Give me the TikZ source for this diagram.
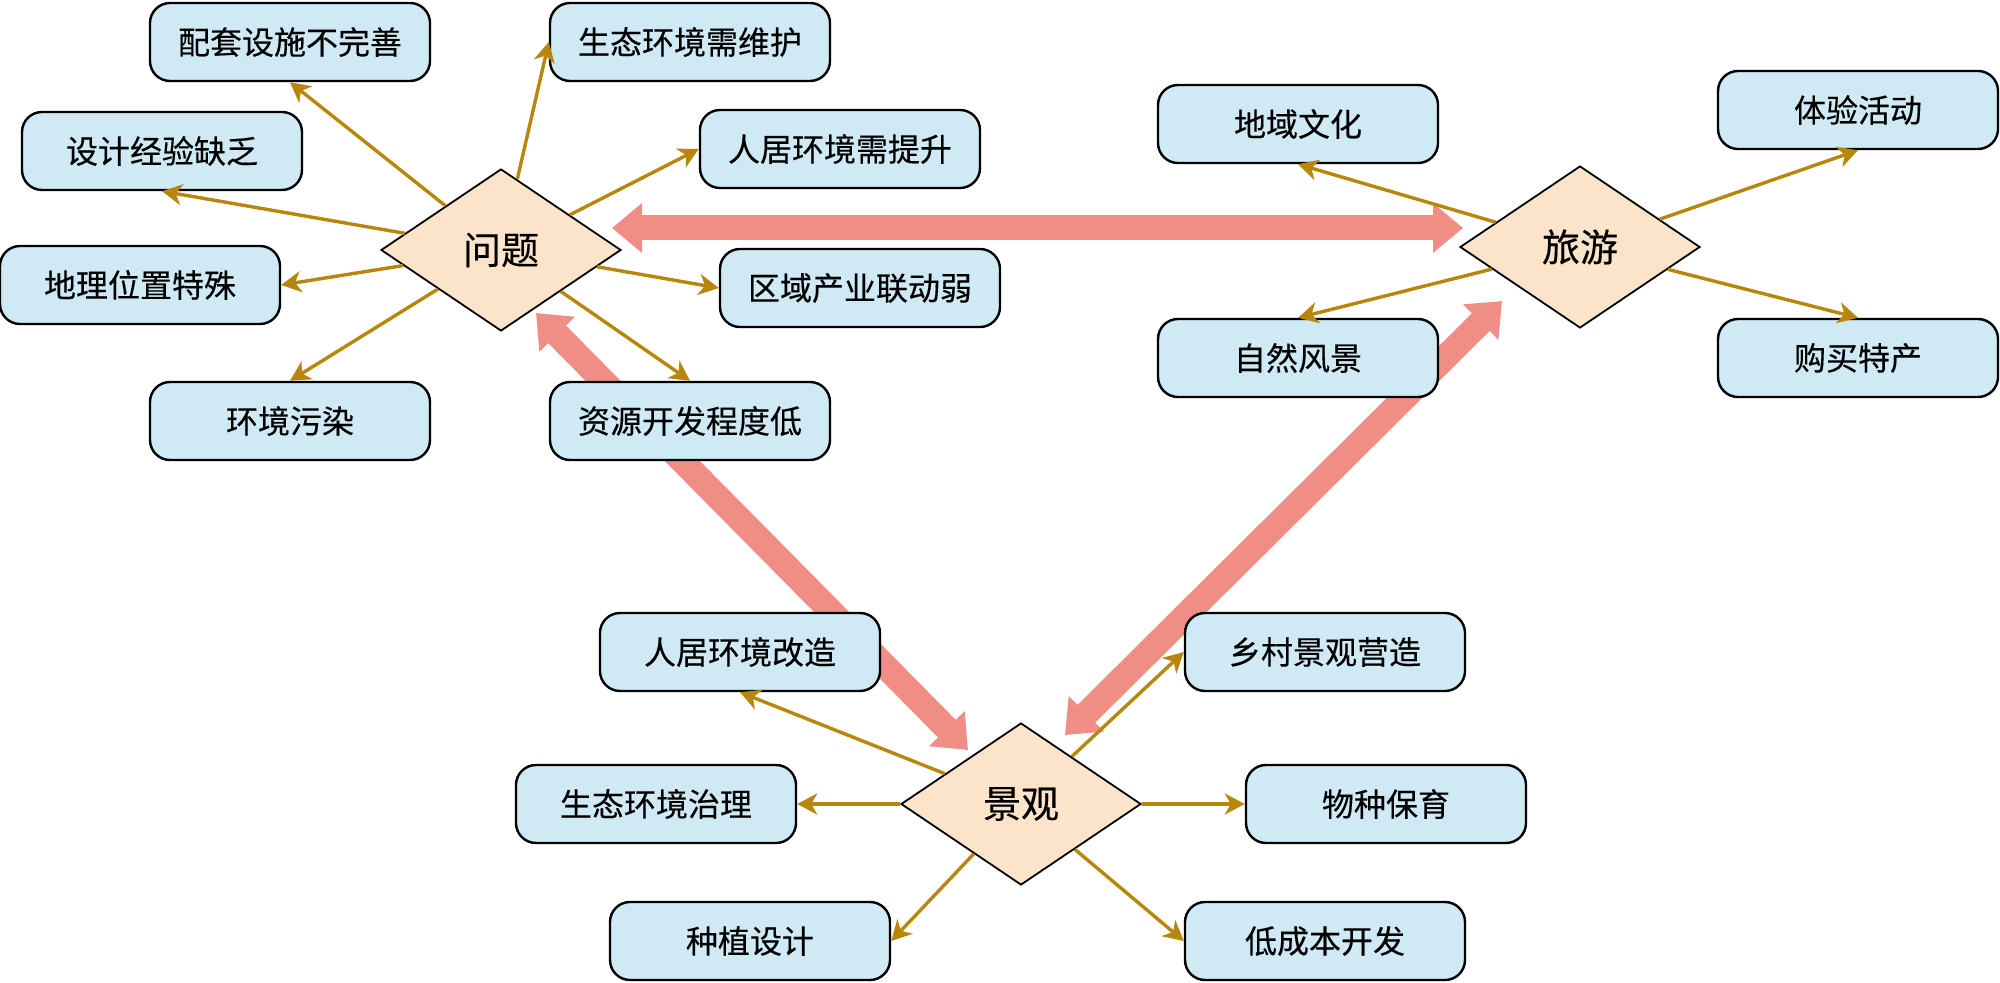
\documentclass[tikz,border=0pt]{standalone}
\usepackage{fontspec}
\setmainfont{Noto Sans CJK SC}[FakeBold=0.3]
\usetikzlibrary{shapes.geometric,arrows.meta}
\definecolor{boxfill}{HTML}{CFE9F5}
\definecolor{diafill}{HTML}{FCE4CA}
\definecolor{gold}{HTML}{B8860B}
\definecolor{pinkarrow}{HTML}{F08E86}
\tikzset{
  box/.style={draw=black, line width=1.2pt, fill=boxfill, rounded corners=10pt,
    minimum width=140pt, minimum height=39pt, inner sep=0pt,
    font=\fontsize{16pt}{18pt}\selectfont},
  dia/.style={diamond, draw=black, line width=0.9pt, fill=diafill, shape aspect=1.5,
    minimum width=120pt, minimum height=81pt, inner sep=0pt,
    font=\fontsize{19pt}{22pt}\selectfont},
  link/.style={draw=gold, line width=1.7pt, -{Stealth[length=10pt,width=10.5pt,inset=3pt]}},
  bigarrow/.style={draw=pinkarrow, line width=12.5pt,
    {Triangle[length=15pt,width=24pt]}-{Triangle[length=15pt,width=24pt]}},
}
\begin{document}
\begin{tikzpicture}[x=0.5pt,y=-0.5pt]
\useasboundingbox (0,0) rectangle (2000,983);
% thick connectors (behind)
\coordinate (h1) at (612,228);
\coordinate (h2) at (1463,228);
\coordinate (d1a) at (536,313);
\coordinate (d1b) at (968,750);
\coordinate (d2a) at (1502,301);
\coordinate (d2b) at (1065,735);
\draw[bigarrow] (h1) -- (h2);
\draw[bigarrow] (d1a) -- (d1b);
\draw[bigarrow] (d2a) -- (d2b);
% centres
\node[dia] (q) at (501,250) {问题};
\node[dia] (t) at (1580,247) {旅游};
\node[dia] (l) at (1021,804) {景观};
% problem boxes
\node[box] (q1) at (290,42) {配套设施不完善};
\node[box] (q2) at (690,42) {生态环境需维护};
\node[box] (q3) at (162,151) {设计经验缺乏};
\node[box] (q4) at (840,149) {人居环境需提升};
\node[box] (q5) at (140,285) {地理位置特殊};
\node[box] (q6) at (860,288) {区域产业联动弱};
\node[box] (q7) at (290,421) {环境污染};
\node[box] (q8) at (690,421) {资源开发程度低};
% tourism boxes
\node[box] (t1) at (1298,124) {地域文化};
\node[box] (t2) at (1858,110) {体验活动};
\node[box] (t3) at (1298,358) {自然风景};
\node[box] (t4) at (1858,358) {购买特产};
% landscape boxes
\node[box] (l1) at (740,652) {人居环境改造};
\node[box] (l2) at (1325,652) {乡村景观营造};
\node[box] (l3) at (656,804) {生态环境治理};
\node[box] (l4) at (1386,804) {物种保育};
\node[box] (l5) at (750,941) {种植设计};
\node[box] (l6) at (1325,941) {低成本开发};
% links
\draw[link] (q) -- (q1.south);
\draw[link] (q) -- (q2.west);
\draw[link] (q) -- (q3.south);
\draw[link] (q) -- (q4.west);
\draw[link] (q) -- (q5.east);
\draw[link] (q) -- (q6.west);
\draw[link] (q) -- (q7.north);
\draw[link] (q) -- (q8.north);
\draw[link] (t) -- (t1.south);
\draw[link] (t) -- (t2.south);
\draw[link] (t) -- (t3.north);
\draw[link] (t) -- (t4.north);
\draw[link] (l) -- (l1.south);
\draw[link] (l) -- (l2.west);
\draw[link] (l) -- (l3.east);
\draw[link] (l) -- (l4.west);
\draw[link] (l) -- (l5.east);
\draw[link] (l) -- (l6.west);
\end{tikzpicture}
\end{document}
